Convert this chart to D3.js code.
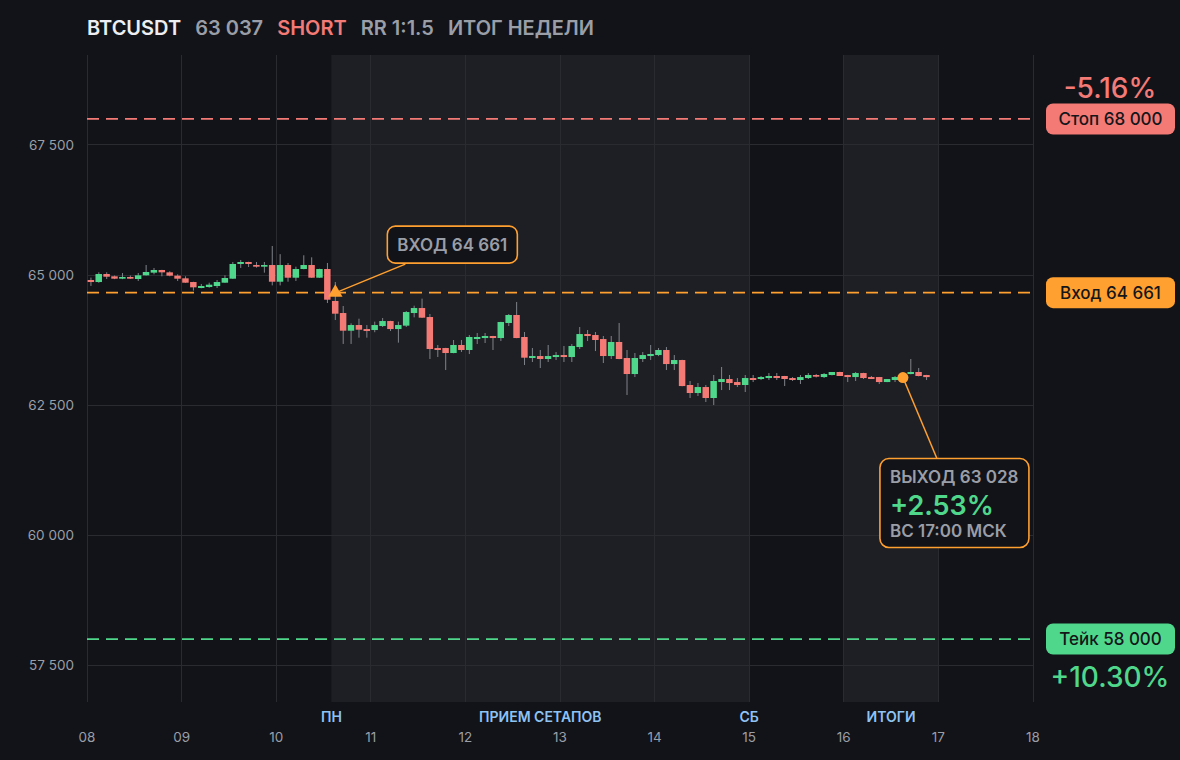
<!DOCTYPE html>
<html><head><meta charset="utf-8">
<script src="https://cdn.jsdelivr.net/npm/d3@7"></script>
<style>
html,body{margin:0;padding:0;background:#121318;}
svg{display:block;font-family:Inter,"Noto Sans",sans-serif;}
</style></head>
<body><svg id="c" width="1180" height="760"></svg>
<script>
// ---------- DATA ----------
const symbol = "BTCUSDT";
const lastPrice = 63037;
const side = "SHORT";
const rr = "RR 1:1.5";
const titleNote = "ИТОГ НЕДЕЛИ";
const startTime = "2024-06-08T00:00:00Z";   // first 2h candle
const candleHours = 2;
const opens = [64904,64865,65019,64975,64929,64962,64923,64994,65045,65096,65051,64987,64936,64865,64750,64769,64788,64852,64929,65212,65250,65192,65160,65192,64871,65192,64948,65115,65192,64948,65115,64500,64269,63929,64038,63961,63942,64019,64115,63961,64026,64269,64365,64192,63596,63596,63500,63654,63558,63769,63788,63827,63788,64077,64231,63808,63404,63442,63385,63423,63461,63423,63615,63865,63846,63769,63442,63712,63404,63096,63385,63442,63461,63558,63288,63365,62885,62731,62846,62635,62942,63000,62942,62885,63019,63000,63019,63058,63058,63019,62981,63019,63077,63038,63077,63135,63077,63038,63115,63038,63038,62942,62981,63038,63096,63135,63077];
const highs = [64950,65052,65052,64990,65038,64990,65038,65192,65135,65100,65071,65013,64975,64870,64827,64852,64904,64994,65250,65289,65255,65250,65250,65558,65401,65231,65160,65379,65340,65120,65231,64865,64404,64071,64160,64038,64103,64173,64120,64103,64307,64410,64545,64250,63654,63600,63750,63750,63846,63885,63885,63830,64100,64250,64481,63904,63596,63558,63654,63519,63635,63673,64000,63942,63904,63827,63827,64077,63558,63500,63519,63654,63596,63615,63461,63370,62962,62923,62885,63077,63231,63077,63019,63077,63077,63058,63115,63115,63060,63038,63077,63115,63096,63115,63135,63140,63080,63135,63120,63058,63040,63000,63058,63060,63385,63212,63080];
const lows = [64790,64850,64923,64920,64920,64925,64885,64990,65013,64975,64975,64885,64850,64700,64745,64756,64750,64850,64925,65135,65154,65141,65045,64800,64800,64871,64885,65110,64945,64945,64461,64135,63674,63674,63795,63795,63900,64000,63923,63699,64000,64186,64175,63385,63423,63173,63495,63520,63480,63673,63692,63558,63730,64019,63785,63269,63327,63212,63327,63365,63327,63327,63577,63731,63538,63308,63385,63380,62693,63038,63327,63365,63440,63173,63173,62860,62635,62673,62558,62500,62788,62788,62846,62750,62942,62980,62981,62981,62865,62962,62904,63000,63030,63020,63070,63058,62942,62962,63000,63000,62904,62940,62942,63000,63090,63050,62981];
const closes = [64865,65019,64967,64929,64962,64929,64994,65058,65096,65051,64987,64929,64852,64763,64788,64814,64865,64942,65212,65250,65212,65160,65192,64871,65192,64948,65115,65192,64948,65115,64525,64256,63929,64038,63948,63923,64038,64115,63961,64038,64288,64365,64179,63577,63558,63500,63654,63558,63808,63808,63827,63788,64096,64231,63788,63410,63442,63385,63442,63461,63423,63635,63865,63827,63750,63442,63712,63385,63096,63404,63461,63481,63558,63288,63365,62865,62731,62846,62635,62962,63000,62923,62885,63019,62981,63038,63058,63019,63000,62981,63038,63077,63045,63096,63135,63058,63038,63115,63019,63000,62942,63000,63038,63028,63135,63058,63037];
const yTicks = [57500,60000,62500,65000,67500];
const dayTicks = ["08","09","10","11","12","13","14","15","16","17","18"];
const stopPrice = 68000, entryPrice = 64661, takePrice = 58000, exitPrice = 63028;
const entryIndex = 31, exitIndex = 103;
const stopPct = "-5.16%", takePct = "+10.30%", exitPct = "+2.53%";
const exitTimeLabel = "ВС 17:00 МСК";
const bands = [
  {from:"2024-06-10T14:00:00Z", to:"2024-06-15T00:00:00Z"},
  {from:"2024-06-16T00:00:00Z", to:"2024-06-17T00:00:00Z"}
];
const bandLabels = [
  {t:"2024-06-10T14:00:00Z", text:"ПН"},
  {t:"2024-06-12T19:00:00Z", text:"ПРИЕМ СЕТАПОВ"},
  {t:"2024-06-15T00:00:00Z", text:"СБ"},
  {t:"2024-06-16T12:00:00Z", text:"ИТОГИ"}
];

// ---------- STYLE ----------
const C = {bg:"#121318", band:"#1e1f24", grid:"#2a2b31", red:"#f47a76", green:"#4fd88b",
  orange:"#ffa030", wick:"#80838a", text:"#9a9ea7", white:"#eceef2", blue:"#8ec3f5"};
const L = 87, R = 1033, T = 55, B = 702;

const svg = d3.select("#c");
svg.append("rect").attr("width",1180).attr("height",760).attr("fill",C.bg);

const t0 = new Date(startTime);
const HOUR = 3600e3;
const candles = opens.map((o,i)=>({t:new Date(+t0 + i*candleHours*HOUR), o, h:highs[i], l:lows[i], c:closes[i]}));

const x = d3.scaleUtc().domain([new Date("2024-06-08T00:00:00Z"), new Date("2024-06-18T00:00:00Z")]).range([L,R]);
const y = d3.scaleLinear().domain([56790, 69230]).range([B,T]);
const fmt = d3.formatLocale({decimal:".",thousands:" ",grouping:[3],currency:["",""]}).format(",");

// bands
svg.append("g").selectAll("rect").data(bands).join("rect")
  .attr("x",d=>x(new Date(d.from))).attr("width",d=>x(new Date(d.to))-x(new Date(d.from)))
  .attr("y",T).attr("height",B-T).attr("fill",C.band);

// grid
const days = dayTicks.map(d=>new Date(`2024-06-${d}T00:00:00Z`));
svg.append("g").selectAll("line").data(days).join("line")
  .attr("x1",d=>x(d)).attr("x2",d=>x(d)).attr("y1",T).attr("y2",B)
  .attr("stroke",C.grid).attr("stroke-width",1).attr("shape-rendering","crispEdges");
svg.append("g").selectAll("line").data(yTicks).join("line")
  .attr("x1",L).attr("x2",R).attr("y1",d=>y(d)).attr("y2",d=>y(d))
  .attr("stroke",C.grid).attr("stroke-width",1).attr("shape-rendering","crispEdges");

// y labels
svg.append("g").selectAll("text").data(yTicks).join("text")
  .attr("x",74).attr("y",d=>y(d)).attr("dy","0.36em").attr("text-anchor","end")
  .attr("font-size",13.5).attr("fill",C.text).text(d=>fmt(d));

// x labels
svg.append("g").selectAll("text").data(days).join("text")
  .attr("x",d=>x(d)).attr("y",742).attr("text-anchor","middle")
  .attr("font-size",13.5).attr("fill",C.text).text((d,i)=>dayTicks[i]);

svg.append("g").selectAll("text").data(bandLabels).join("text")
  .attr("x",d=>x(new Date(d.t))).attr("y",722).attr("text-anchor","middle")
  .attr("font-size",14).attr("font-weight",600).attr("fill",C.blue).text(d=>d.text);

// level lines
const levels = [{p:stopPrice,c:C.red},{p:entryPrice,c:C.orange},{p:takePrice,c:C.green}];
svg.append("g").selectAll("line").data(levels).join("line")
  .attr("x1",L).attr("x2",R).attr("y1",d=>y(d.p)).attr("y2",d=>y(d.p))
  .attr("stroke",d=>d.c).attr("stroke-width",1.8).attr("stroke-dasharray","12 7");

// candles
const slot = x(new Date(+t0 + candleHours*HOUR)) - x(t0);
const g = svg.append("g");
g.selectAll("line").data(candles).join("line")
  .attr("x1",d=>x(d.t)+slot/2).attr("x2",d=>x(d.t)+slot/2)
  .attr("y1",d=>y(d.h)).attr("y2",d=>y(d.l))
  .attr("stroke",C.wick).attr("stroke-width",1);
g.selectAll("rect").data(candles).join("rect")
  .attr("x",d=>x(d.t)+0.6).attr("width",slot-1.4)
  .attr("y",d=>y(Math.max(d.o,d.c)))
  .attr("height",d=>Math.max(1.5, Math.abs(y(d.o)-y(d.c))))
  .attr("fill",d=>d.c>=d.o?C.green:C.red);

// entry marker & annotation
const ex0 = x(candles[entryIndex].t)+slot/2, ey0 = y(entryPrice);
svg.append("line").attr("x1",ex0+3).attr("y1",ey0-1).attr("x2",ex0+70).attr("y2",ey0-28.5)
  .attr("stroke",C.orange).attr("stroke-width",1.5);
svg.append("path").attr("d",d3.symbol(d3.symbolTriangle,90)())
  .attr("transform",`translate(${ex0},${ey0})`).attr("fill",C.orange);
svg.append("rect").attr("x",ex0+52).attr("y",ey0-66.5).attr("width",130).attr("height",37).attr("rx",8)
  .attr("fill",C.bg).attr("stroke",C.orange).attr("stroke-width",1.6);
svg.append("text").attr("x",ex0+117).attr("y",ey0-42).attr("text-anchor","middle")
  .attr("font-size",17).attr("font-weight",600).attr("fill",C.text).text("ВХОД " + fmt(entryPrice));

// exit marker & annotation
const xx0 = x(candles[exitIndex].t)+slot/2, xy0 = y(exitPrice);
svg.append("line").attr("x1",xx0).attr("y1",xy0).attr("x2",xx0+34).attr("y2",xy0+81)
  .attr("stroke",C.orange).attr("stroke-width",1.5);
svg.append("circle").attr("cx",xx0).attr("cy",xy0).attr("r",5.5).attr("fill",C.orange);
svg.append("rect").attr("x",xx0-23).attr("y",xy0+81).attr("width",149).attr("height",89).attr("rx",9)
  .attr("fill",C.bg).attr("stroke",C.orange).attr("stroke-width",1.6);
svg.append("text").attr("x",xx0-13).attr("y",xy0+105).attr("font-size",17).attr("font-weight",600)
  .attr("fill",C.text).text("ВЫХОД " + fmt(exitPrice));
svg.append("text").attr("x",xx0-13).attr("y",xy0+137).attr("font-size",27).attr("font-weight",600)
  .attr("fill",C.green).text(exitPct);
svg.append("text").attr("x",xx0-13).attr("y",xy0+159).attr("font-size",17).attr("font-weight",600)
  .attr("fill",C.text).text(exitTimeLabel);

// right pills
const pills = [
  {p:stopPrice, label:"Стоп " + fmt(stopPrice), c:C.red},
  {p:entryPrice, label:"Вход " + fmt(entryPrice), c:C.orange},
  {p:takePrice, label:"Тейк " + fmt(takePrice), c:C.green}
];
const pg = svg.append("g").selectAll("g").data(pills).join("g")
  .attr("transform",d=>`translate(1110.5,${y(d.p)})`);
pg.append("rect").attr("x",-64.5).attr("y",-15.5).attr("width",129).attr("height",31).attr("rx",7).attr("fill",d=>d.c);
pg.append("text").attr("text-anchor","middle").attr("dy","0.36em").attr("font-size",17).attr("font-weight",500)
  .attr("fill","#15161a").text(d=>d.label);

svg.append("text").attr("x",1110).attr("y",y(stopPrice)-21).attr("text-anchor","middle")
  .attr("font-size",28).attr("font-weight",500).attr("fill",C.red).text(stopPct);
svg.append("text").attr("x",1110).attr("y",y(takePrice)+48).attr("text-anchor","middle")
  .attr("font-size",28).attr("font-weight",500).attr("fill",C.green).text(takePct);

// header
const hdr = [
  {t:symbol, c:C.white},
  {t:fmt(lastPrice), c:C.text},
  {t:side, c:C.red},
  {t:rr, c:C.text},
  {t:titleNote, c:C.text}
];
let hx = 87;
hdr.forEach(h=>{
  const tx = svg.append("text").attr("x",hx).attr("y",35).attr("font-size",20).attr("font-weight",600)
    .attr("fill",h.c).text(h.t);
  hx += tx.node().getComputedTextLength() + 14;
});
</script></body></html>
